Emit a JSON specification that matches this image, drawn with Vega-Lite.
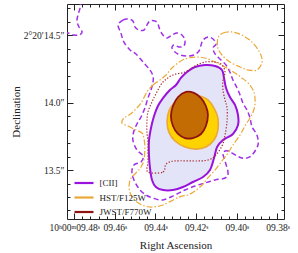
{
  "$schema": "https://vega.github.io/schema/vega-lite/v6.json",
  "width": 217,
  "height": 215,
  "autosize": "none",
  "padding": {"left": 67, "top": 4, "right": 14, "bottom": 34},
  "config": {
    "font": "Liberation Serif",
    "view": {"stroke": "#222", "strokeWidth": 1},
    "axis": {"domain": false, "grid": false, "tickColor": "#222", "labelColor": "#222", "titleColor": "#222", "labelFontSize": 9.5, "titleFontSize": 11, "titleFontWeight": 400, "labelOverlap": false, "labelFlush": false, "labelBound": false, "tickWidth": 1},
    "legend": {"orient": "none", "legendX": 11, "legendY": 173, "symbolType": "M-2,0L2,0", "symbolSize": 90, "symbolStrokeWidth": 2.2, "labelFontSize": 9, "labelColor": "#222", "labelOffset": 9.5, "rowPadding": 3.5, "padding": 0}
  },
  "datasets": {
    "cii_frag": [
      {"ra": 9.4766, "dec": 14.760}, {"ra": 9.4771, "dec": 14.700}, {"ra": 9.4781, "dec": 14.648}, {"ra": 9.4786, "dec": 14.604}, {"ra": 9.4776, "dec": 14.560}, {"ra": 9.4761, "dec": 14.523}, {"ra": 9.4776, "dec": 14.500}, {"ra": 9.4801, "dec": 14.500}, {"ra": 9.4830, "dec": 14.515}, {"ra": 9.4855, "dec": 14.530}
    ],
    "cii_outer": [
      {"ra": 9.4584, "dec": 14.574}, {"ra": 9.4560, "dec": 14.611}, {"ra": 9.4535, "dec": 14.619}, {"ra": 9.4511, "dec": 14.604}, {"ra": 9.4501, "dec": 14.560}, {"ra": 9.4481, "dec": 14.537}, {"ra": 9.4457, "dec": 14.537}, {"ra": 9.4442, "dec": 14.574}, {"ra": 9.4427, "dec": 14.604}, {"ra": 9.4402, "dec": 14.604}, {"ra": 9.4388, "dec": 14.582}, {"ra": 9.4378, "dec": 14.537}, {"ra": 9.4363, "dec": 14.500}, {"ra": 9.4343, "dec": 14.478}, {"ra": 9.4319, "dec": 14.500}, {"ra": 9.4294, "dec": 14.515}, {"ra": 9.4270, "dec": 14.500}, {"ra": 9.4255, "dec": 14.463}, {"ra": 9.4260, "dec": 14.419}, {"ra": 9.4284, "dec": 14.411}, {"ra": 9.4309, "dec": 14.426}, {"ra": 9.4319, "dec": 14.404}, {"ra": 9.4304, "dec": 14.374}, {"ra": 9.4279, "dec": 14.352}, {"ra": 9.4245, "dec": 14.345}, {"ra": 9.4211, "dec": 14.352}, {"ra": 9.4186, "dec": 14.382}, {"ra": 9.4176, "dec": 14.426}, {"ra": 9.4166, "dec": 14.463}, {"ra": 9.4142, "dec": 14.486}, {"ra": 9.4117, "dec": 14.471}, {"ra": 9.4102, "dec": 14.434}, {"ra": 9.4117, "dec": 14.404}, {"ra": 9.4107, "dec": 14.360}, {"ra": 9.4083, "dec": 14.323}, {"ra": 9.4053, "dec": 14.278}, {"ra": 9.4034, "dec": 14.226}, {"ra": 9.4019, "dec": 14.167}, {"ra": 9.3999, "dec": 14.108}, {"ra": 9.3984, "dec": 14.056}, {"ra": 9.3970, "dec": 13.996}, {"ra": 9.3950, "dec": 13.945}, {"ra": 9.3935, "dec": 13.885}, {"ra": 9.3925, "dec": 13.819}, {"ra": 9.3901, "dec": 13.759}, {"ra": 9.3896, "dec": 13.685}, {"ra": 9.3925, "dec": 13.611}, {"ra": 9.3950, "dec": 13.589}, {"ra": 9.3975, "dec": 13.589}, {"ra": 9.3999, "dec": 13.604}, {"ra": 9.4043, "dec": 13.641}, {"ra": 9.4068, "dec": 13.626}, {"ra": 9.4058, "dec": 13.567}, {"ra": 9.4043, "dec": 13.478}, {"ra": 9.4058, "dec": 13.441}, {"ra": 9.4107, "dec": 13.426}, {"ra": 9.4157, "dec": 13.404}, {"ra": 9.4206, "dec": 13.381}, {"ra": 9.4255, "dec": 13.352}, {"ra": 9.4304, "dec": 13.315}, {"ra": 9.4363, "dec": 13.278}, {"ra": 9.4412, "dec": 13.292}, {"ra": 9.4447, "dec": 13.315}, {"ra": 9.4476, "dec": 13.352}, {"ra": 9.4501, "dec": 13.411}, {"ra": 9.4516, "dec": 13.478}, {"ra": 9.4506, "dec": 13.537}, {"ra": 9.4471, "dec": 13.559}, {"ra": 9.4461, "dec": 13.604}, {"ra": 9.4491, "dec": 13.648}, {"ra": 9.4511, "dec": 13.722}, {"ra": 9.4506, "dec": 13.789}, {"ra": 9.4491, "dec": 13.841}, {"ra": 9.4471, "dec": 13.893}, {"ra": 9.4452, "dec": 13.959}, {"ra": 9.4437, "dec": 14.033}, {"ra": 9.4422, "dec": 14.093}, {"ra": 9.4412, "dec": 14.152}, {"ra": 9.4412, "dec": 14.196}, {"ra": 9.4427, "dec": 14.241}, {"ra": 9.4461, "dec": 14.300}, {"ra": 9.4496, "dec": 14.360}, {"ra": 9.4525, "dec": 14.389}, {"ra": 9.4555, "dec": 14.448}, {"ra": 9.4570, "dec": 14.515}
    ],
    "hst_knot": [
      {"ra": 9.4093, "dec": 14.478}, {"ra": 9.4068, "dec": 14.515}, {"ra": 9.4024, "dec": 14.523}, {"ra": 9.3975, "dec": 14.500}, {"ra": 9.3925, "dec": 14.448}, {"ra": 9.3886, "dec": 14.367}, {"ra": 9.3876, "dec": 14.300}, {"ra": 9.3901, "dec": 14.241}, {"ra": 9.3945, "dec": 14.241}, {"ra": 9.3984, "dec": 14.263}, {"ra": 9.4034, "dec": 14.300}, {"ra": 9.4073, "dec": 14.352}, {"ra": 9.4093, "dec": 14.404}
    ],
    "hst_outer": [
      {"ra": 9.4442, "dec": 14.078}, {"ra": 9.4412, "dec": 14.130}, {"ra": 9.4378, "dec": 14.167}, {"ra": 9.4348, "dec": 14.204}, {"ra": 9.4319, "dec": 14.256}, {"ra": 9.4289, "dec": 14.293}, {"ra": 9.4255, "dec": 14.323}, {"ra": 9.4206, "dec": 14.337}, {"ra": 9.4157, "dec": 14.330}, {"ra": 9.4107, "dec": 14.300}, {"ra": 9.4058, "dec": 14.263}, {"ra": 9.4009, "dec": 14.219}, {"ra": 9.3975, "dec": 14.182}, {"ra": 9.3945, "dec": 14.145}, {"ra": 9.3920, "dec": 14.093}, {"ra": 9.3911, "dec": 14.041}, {"ra": 9.3911, "dec": 13.982}, {"ra": 9.3920, "dec": 13.930}, {"ra": 9.3935, "dec": 13.885}, {"ra": 9.3960, "dec": 13.826}, {"ra": 9.3984, "dec": 13.759}, {"ra": 9.4019, "dec": 13.685}, {"ra": 9.4043, "dec": 13.626}, {"ra": 9.4073, "dec": 13.567}, {"ra": 9.4107, "dec": 13.500}, {"ra": 9.4142, "dec": 13.441}, {"ra": 9.4171, "dec": 13.389}, {"ra": 9.4206, "dec": 13.344}, {"ra": 9.4240, "dec": 13.315}, {"ra": 9.4270, "dec": 13.307}, {"ra": 9.4304, "dec": 13.285}, {"ra": 9.4363, "dec": 13.241}, {"ra": 9.4412, "dec": 13.226}, {"ra": 9.4452, "dec": 13.233}, {"ra": 9.4491, "dec": 13.263}, {"ra": 9.4520, "dec": 13.315}, {"ra": 9.4530, "dec": 13.381}, {"ra": 9.4520, "dec": 13.441}, {"ra": 9.4496, "dec": 13.478}, {"ra": 9.4471, "dec": 13.522}, {"ra": 9.4457, "dec": 13.574}, {"ra": 9.4452, "dec": 13.663}, {"ra": 9.4457, "dec": 13.737}, {"ra": 9.4466, "dec": 13.774}, {"ra": 9.4496, "dec": 13.796}, {"ra": 9.4535, "dec": 13.826}, {"ra": 9.4565, "dec": 13.848}, {"ra": 9.4555, "dec": 13.885}, {"ra": 9.4530, "dec": 13.907}, {"ra": 9.4501, "dec": 13.945}, {"ra": 9.4471, "dec": 13.996}
    ],
    "jwst_outer": [
      {"ra": 9.4437, "dec": 13.485}, {"ra": 9.4363, "dec": 13.485}, {"ra": 9.4348, "dec": 13.544}, {"ra": 9.4304, "dec": 13.567}, {"ra": 9.4191, "dec": 13.567}, {"ra": 9.4142, "dec": 13.574}, {"ra": 9.4107, "dec": 13.604}, {"ra": 9.4073, "dec": 13.678}, {"ra": 9.4058, "dec": 13.759}, {"ra": 9.4048, "dec": 13.863}, {"ra": 9.4048, "dec": 13.959}, {"ra": 9.4058, "dec": 14.019}, {"ra": 9.4068, "dec": 14.093}, {"ra": 9.4068, "dec": 14.167}, {"ra": 9.4058, "dec": 14.226}, {"ra": 9.4073, "dec": 14.278}, {"ra": 9.4107, "dec": 14.300}, {"ra": 9.4157, "dec": 14.300}, {"ra": 9.4206, "dec": 14.271}, {"ra": 9.4255, "dec": 14.226}, {"ra": 9.4314, "dec": 14.204}, {"ra": 9.4363, "dec": 14.152}, {"ra": 9.4393, "dec": 14.078}, {"ra": 9.4417, "dec": 14.004}, {"ra": 9.4437, "dec": 13.930}, {"ra": 9.4442, "dec": 13.856}, {"ra": 9.4442, "dec": 13.782}, {"ra": 9.4437, "dec": 13.707}, {"ra": 9.4437, "dec": 13.633}, {"ra": 9.4437, "dec": 13.559}
    ],
    "cii_inner": [
      {"ra": 9.4157, "dec": 14.278}, {"ra": 9.4107, "dec": 14.271}, {"ra": 9.4073, "dec": 14.241}, {"ra": 9.4063, "dec": 14.182}, {"ra": 9.4053, "dec": 14.108}, {"ra": 9.4034, "dec": 14.041}, {"ra": 9.4009, "dec": 13.982}, {"ra": 9.3994, "dec": 13.907}, {"ra": 9.3994, "dec": 13.833}, {"ra": 9.4019, "dec": 13.767}, {"ra": 9.4068, "dec": 13.722}, {"ra": 9.4097, "dec": 13.670}, {"ra": 9.4112, "dec": 13.589}, {"ra": 9.4132, "dec": 13.500}, {"ra": 9.4166, "dec": 13.448}, {"ra": 9.4216, "dec": 13.411}, {"ra": 9.4265, "dec": 13.374}, {"ra": 9.4314, "dec": 13.352}, {"ra": 9.4363, "dec": 13.352}, {"ra": 9.4398, "dec": 13.374}, {"ra": 9.4417, "dec": 13.426}, {"ra": 9.4427, "dec": 13.515}, {"ra": 9.4432, "dec": 13.611}, {"ra": 9.4432, "dec": 13.715}, {"ra": 9.4422, "dec": 13.811}, {"ra": 9.4407, "dec": 13.900}, {"ra": 9.4388, "dec": 13.974}, {"ra": 9.4363, "dec": 14.033}, {"ra": 9.4329, "dec": 14.093}, {"ra": 9.4299, "dec": 14.130}, {"ra": 9.4275, "dec": 14.182}, {"ra": 9.4245, "dec": 14.226}, {"ra": 9.4206, "dec": 14.263}
    ],
    "hst_inner": [
      {"ra": 9.4181, "dec": 14.048}, {"ra": 9.4142, "dec": 14.019}, {"ra": 9.4112, "dec": 13.959}, {"ra": 9.4093, "dec": 13.885}, {"ra": 9.4093, "dec": 13.796}, {"ra": 9.4112, "dec": 13.722}, {"ra": 9.4152, "dec": 13.670}, {"ra": 9.4201, "dec": 13.655}, {"ra": 9.4255, "dec": 13.670}, {"ra": 9.4304, "dec": 13.715}, {"ra": 9.4334, "dec": 13.781}, {"ra": 9.4343, "dec": 13.856}, {"ra": 9.4334, "dec": 13.937}, {"ra": 9.4309, "dec": 13.996}, {"ra": 9.4275, "dec": 14.041}, {"ra": 9.4230, "dec": 14.056}
    ],
    "jwst_inner": [
      {"ra": 9.4250, "dec": 14.078}, {"ra": 9.4211, "dec": 14.071}, {"ra": 9.4176, "dec": 14.033}, {"ra": 9.4152, "dec": 13.974}, {"ra": 9.4142, "dec": 13.907}, {"ra": 9.4152, "dec": 13.826}, {"ra": 9.4176, "dec": 13.767}, {"ra": 9.4216, "dec": 13.737}, {"ra": 9.4255, "dec": 13.737}, {"ra": 9.4289, "dec": 13.767}, {"ra": 9.4314, "dec": 13.826}, {"ra": 9.4324, "dec": 13.900}, {"ra": 9.4314, "dec": 13.974}, {"ra": 9.4289, "dec": 14.041}
    ]
  },
  "encoding": {
    "x": {"field": "ra", "type": "quantitative", "scale": {"domain": [9.3768, 9.4835], "reverse": true, "nice": false, "zero": false}, "axis": null},
    "y": {"field": "dec", "type": "quantitative", "scale": {"domain": [13.137, 14.73], "nice": false, "zero": false}, "axis": null},
    "order": {"value": null}
  },
  "layer": [
    {
      "data": {"name": "cii_inner"},
      "mark": {"type": "line", "interpolate": "cardinal-closed", "fill": "#E4E4F8", "strokeWidth": 2, "clip": true},
      "encoding": {
        "x": {"field": "ra", "type": "quantitative", "scale": {"domain": [9.3768, 9.4835], "reverse": true, "nice": false, "zero": false},
          "axis": {"orient": "bottom", "title": "Right Ascension", "titlePadding": 5, "titleFontWeight": 400, "titleFont": "Liberation Serif",
            "values": [9.38, 9.384, 9.388, 9.392, 9.396, 9.4, 9.404, 9.408, 9.412, 9.416, 9.42, 9.424, 9.428, 9.432, 9.436, 9.44, 9.444, 9.448, 9.452, 9.456, 9.46, 9.464, 9.468, 9.472, 9.476, 9.48],
            "tickSize": {"condition": {"test": "abs(datum.value*50-round(datum.value*50))<0.01", "value": -6}, "value": -3},
            "labelPadding": 9,
            "labelExpr": "abs(datum.value*50-round(datum.value*50))<0.01 ? (abs(datum.value-9.48)<0.001 ? '10\u02b000\u1d5009.48\u02e2' : '0'+format(datum.value,'.2f')+'\u02e2') : ''"}},
        "y": {"field": "dec", "type": "quantitative", "scale": {"domain": [13.137, 14.73], "nice": false, "zero": false},
          "axis": {"orient": "left", "title": "Declination", "titlePadding": 2, "titleFontWeight": 400, "titleFont": "Liberation Serif",
            "values": [13.2, 13.3, 13.4, 13.5, 13.6, 13.7, 13.8, 13.9, 14.0, 14.1, 14.2, 14.3, 14.4, 14.5, 14.6, 14.7],
            "tickSize": {"condition": {"test": "abs(datum.value*2-round(datum.value*2))<0.01", "value": -6}, "value": -3},
            "labelPadding": 9,
            "labelExpr": "abs(datum.value*2-round(datum.value*2))<0.01 ? (abs(datum.value-14.5)<0.001 ? '2\u00b020\u203214.5\u2033' : format(datum.value,'.1f')+'\u2033') : ''"}},
        "stroke": {"datum": "[CII]", "type": "nominal", "scale": {"domain": ["[CII]", "HST/F125W", "JWST/F770W"], "range": ["#9A12DB", "#EBA83A", "#8E1212"]}, "legend": {"title": null}}
      }
    },
    {
      "data": {"name": "hst_inner"},
      "mark": {"type": "line", "interpolate": "cardinal-closed", "fill": "#FFD300", "strokeWidth": 1.6, "clip": true},
      "encoding": {
        "stroke": {"datum": "HST/F125W", "type": "nominal", "scale": {"domain": ["[CII]", "HST/F125W", "JWST/F770W"], "range": ["#9A12DB", "#EBA83A", "#8E1212"]}, "legend": {"title": null}}
      }
    },
    {
      "data": {"name": "jwst_inner"},
      "mark": {"type": "line", "interpolate": "cardinal-closed", "fill": "#C46C04", "strokeWidth": 1.8, "clip": true},
      "encoding": {
        "stroke": {"datum": "JWST/F770W", "type": "nominal", "scale": {"domain": ["[CII]", "HST/F125W", "JWST/F770W"], "range": ["#9A12DB", "#EBA83A", "#8E1212"]}, "legend": {"title": null}}
      }
    },
    {
      "data": {"name": "cii_outer"},
      "mark": {"type": "line", "interpolate": "cardinal-closed", "color": "#A030E8", "strokeWidth": 1.5, "strokeDash": [5, 3], "clip": true},
      "encoding": {}
    },
    {
      "data": {"name": "cii_frag"},
      "mark": {"type": "line", "interpolate": "cardinal", "color": "#A030E8", "strokeWidth": 1.5, "strokeDash": [5, 3], "clip": true},
      "encoding": {}
    },
    {
      "data": {"name": "hst_outer"},
      "mark": {"type": "line", "interpolate": "cardinal-closed", "color": "#EAA838", "strokeWidth": 1.2, "strokeDash": [6, 2, 1.5, 2], "clip": true},
      "encoding": {}
    },
    {
      "data": {"name": "hst_knot"},
      "mark": {"type": "line", "interpolate": "cardinal-closed", "color": "#EAA838", "strokeWidth": 1.2, "strokeDash": [6, 2, 1.5, 2], "clip": true},
      "encoding": {}
    },
    {
      "data": {"name": "jwst_outer"},
      "mark": {"type": "line", "interpolate": "cardinal-closed", "color": "#A82A2A", "strokeWidth": 1.2, "strokeDash": [1.3, 1.7], "clip": true},
      "encoding": {
        "x": {"field": "ra", "type": "quantitative", "scale": {"domain": [9.3768, 9.4835], "reverse": true, "nice": false, "zero": false},
          "axis": {"orient": "top", "title": null, "labels": false,
            "values": [9.38, 9.384, 9.388, 9.392, 9.396, 9.4, 9.404, 9.408, 9.412, 9.416, 9.42, 9.424, 9.428, 9.432, 9.436, 9.44, 9.444, 9.448, 9.452, 9.456, 9.46, 9.464, 9.468, 9.472, 9.476, 9.48],
            "tickSize": {"condition": {"test": "abs(datum.value*50-round(datum.value*50))<0.01", "value": -6}, "value": -3}}},
        "y": {"field": "dec", "type": "quantitative", "scale": {"domain": [13.137, 14.73], "nice": false, "zero": false},
          "axis": {"orient": "right", "title": null, "labels": false,
            "values": [13.2, 13.3, 13.4, 13.5, 13.6, 13.7, 13.8, 13.9, 14.0, 14.1, 14.2, 14.3, 14.4, 14.5, 14.6, 14.7],
            "tickSize": {"condition": {"test": "abs(datum.value*2-round(datum.value*2))<0.01", "value": -6}, "value": -3}}}
      }
    }
  ],
  "resolve": {"axis": {"x": "independent", "y": "independent"}}
}
